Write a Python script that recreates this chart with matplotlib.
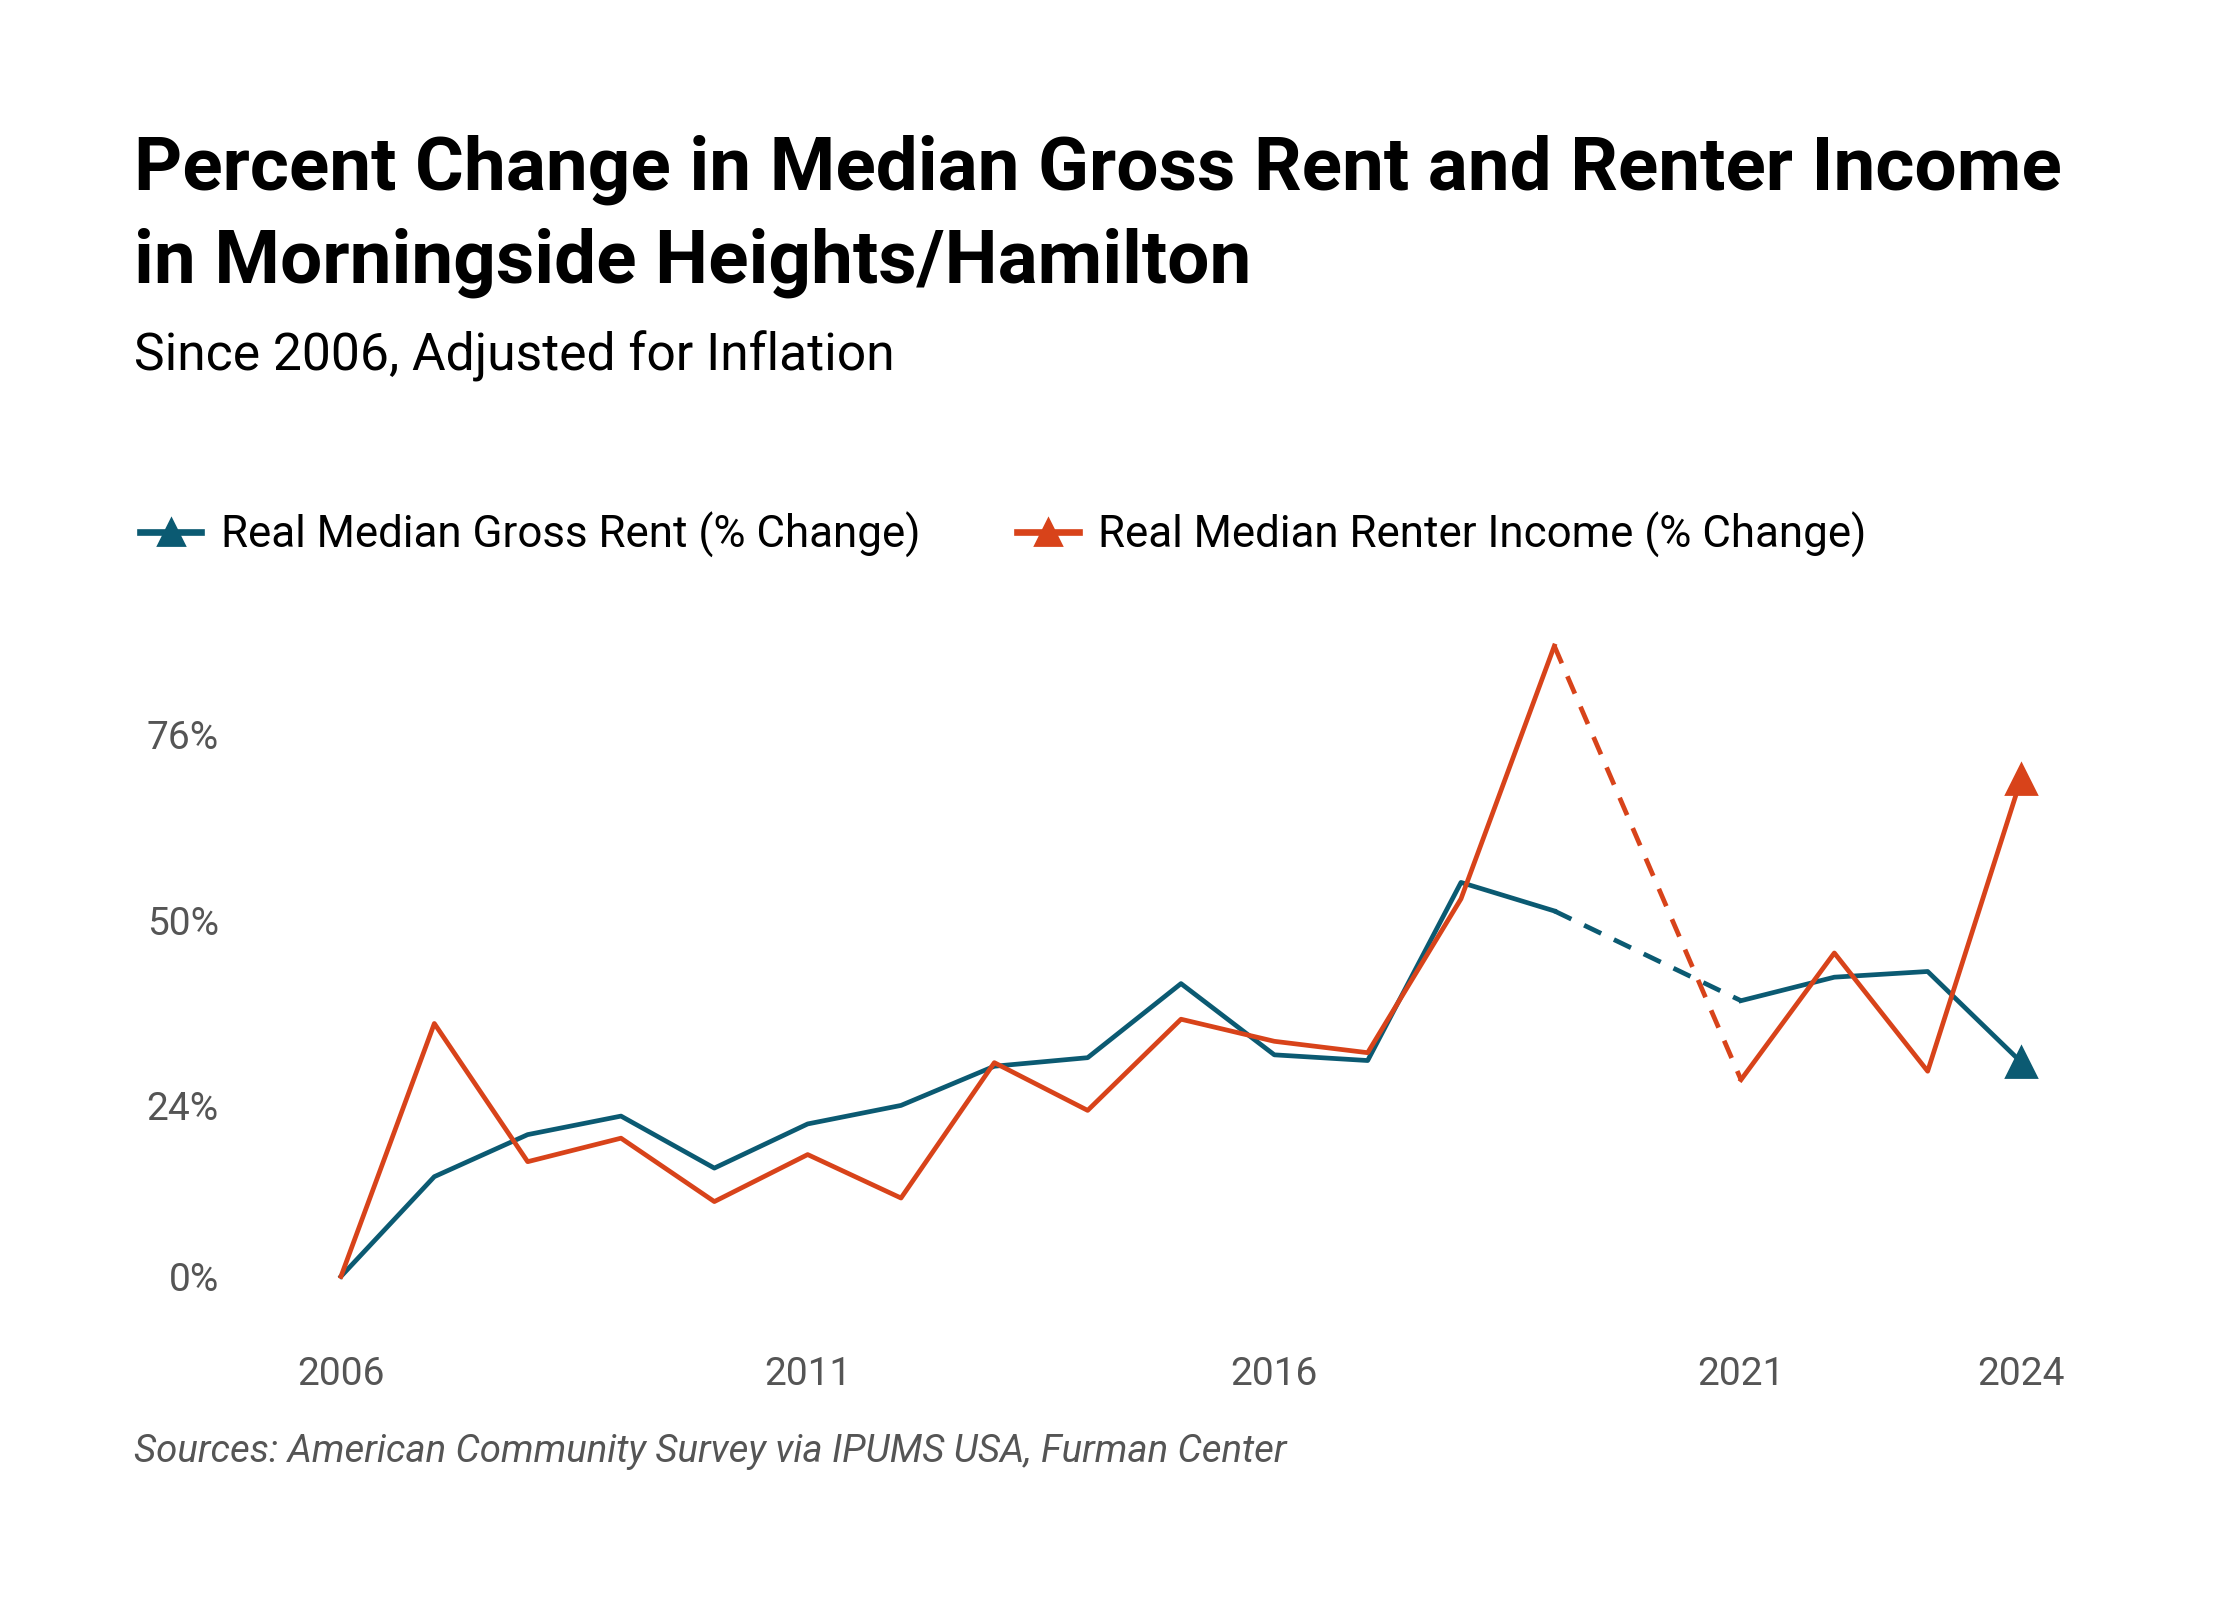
import numpy as np
import matplotlib.pyplot as plt

plt.rcParams['font.family'] = ['Roboto', 'DejaVu Sans']

# Data (2020 has no value; it is bridged by a dashed line)
years = [2006, 2007, 2008, 2009, 2010, 2011, 2012, 2013, 2014, 2015,
         2016, 2017, 2018, 2019, 2020, 2021, 2022, 2023, 2024]
rent_change = [0.0, 14.0, 19.9, 22.5, 15.2, 21.4, 24.0, 29.5, 30.7, 41.1,
               31.1, 30.3, 55.3, 51.3, np.nan, 38.7, 42.0, 42.8, 30.1]
income_change = [0.0, 35.5, 16.1, 19.4, 10.5, 17.1, 11.0, 30.0, 23.3, 36.1,
                 33.0, 31.4, 53.0, 88.5, np.nan, 27.6, 45.4, 28.8, 69.8]

y_ticks = [0, 24, 50, 76]
x_ticks = [2006, 2011, 2016, 2021, 2024]

title_lines = ["Percent Change in Median Gross Rent and Renter Income",
               "in Morningside Heights/Hamilton"]
subtitle = "Since 2006, Adjusted for Inflation"
source = "Sources: American Community Survey via IPUMS USA, Furman Center"

BLUE = '#0b5a72'
ORANGE = '#d8431a'
GRAY = '#555555'

W, H = 2240, 1600
fig = plt.figure(figsize=(11.2, 8), dpi=200)
# axes box in pixels: x 2006 -> 341, 2024 -> 2021; y -5% -> 1312, 92% -> 621
ax = fig.add_axes([341 / W, 1 - 1312 / H, (2021 - 341) / W, (1312 - 621) / H])

yrs = np.array(years)


def draw_series(values, color, label):
    v = np.array(values, dtype=float)
    ax.plot(yrs, v, color=color, lw=1.7, clip_on=False)
    # dashed bridge over the missing year
    for g in np.where(np.isnan(v))[0]:
        ax.plot([yrs[g - 1], yrs[g + 1]], [v[g - 1], v[g + 1]], color=color,
                lw=1.7, dashes=(4, 3), clip_on=False)
    ax.plot(yrs[-1], v[-1], marker='^', ms=10.5, color=color, clip_on=False,
            linestyle='none')
    # legend proxy
    return ax.plot([], [], color=color, lw=2.4, marker='^', ms=9.5, label=label)[0]


h1 = draw_series(rent_change, BLUE, "Real Median Gross Rent (% Change)")
h2 = draw_series(income_change, ORANGE, "Real Median Renter Income (% Change)")

ax.set_xlim(2006, 2024)
ax.set_ylim(-5, 92)
ax.set_xticks(x_ticks)
ax.set_yticks(y_ticks)
ax.set_yticklabels([f"{t}%" for t in y_ticks])
ax.tick_params(axis='both', length=0, labelsize=14, colors=GRAY)
ax.tick_params(axis='y', pad=44)
ax.tick_params(axis='x', pad=16)
for s in ax.spines.values():
    s.set_visible(False)

fig.text(134 / W, 1 - 190 / H, title_lines[0], fontsize=26.9, fontweight='bold',
         color='black', va='baseline', ha='left')
fig.text(134 / W, 1 - 283 / H, title_lines[1], fontsize=26.9, fontweight='bold',
         color='black', va='baseline', ha='left')
fig.text(134 / W, 1 - 371 / H, subtitle, fontsize=18.6, color='black',
         va='baseline', ha='left')
fig.text(134 / W, 1 - 1462 / H, source, fontsize=13.8, style='italic',
         color=GRAY, va='baseline', ha='left')

fig.legend(handles=[h1, h2], loc='center left',
           bbox_to_anchor=(140 / W, 1 - 535 / H), ncol=2, frameon=False,
           fontsize=15.8, handlelength=1.4, handletextpad=0.45, columnspacing=2.2,
           borderaxespad=0, borderpad=0)

fig.savefig('out.png', dpi=200)
